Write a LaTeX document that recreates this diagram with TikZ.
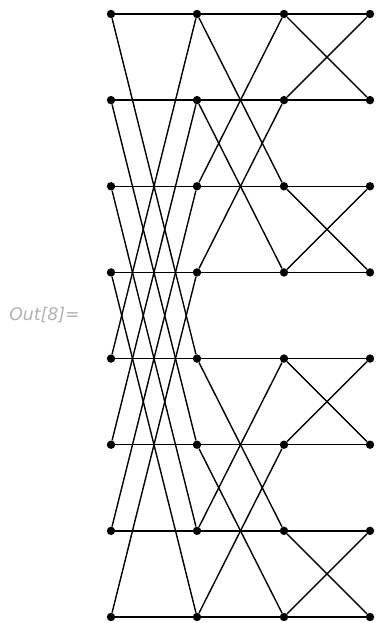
\documentclass[tikz,border=0pt]{standalone}
\usepackage{fontspec}
\newfontfamily\outfont{DejaVu Sans}
\usetikzlibrary{positioning,calc}
\tikzset{
  dot/.style={circle,fill=black,inner sep=0pt,minimum size=6.3pt},
  wire/.style={line width=1.05pt},
  outlabel/.style={text=black!30,font=\outfont\itshape\fontsize{13}{15}\selectfont,anchor=west,inner sep=0pt},
}
\begin{document}
\begin{tikzpicture}[x=0.75pt,y=-0.75pt]
    \useasboundingbox (0,0) rectangle (375,623);
    \node[outlabel] (out) at (9,315) {Out[8]=};
    % four columns of eight points
    \foreach \c/\x in {0/111,1/197,2/284,3/370}
      \foreach \r in {0,...,7}
        \node[dot] (n\c\r) at (\x,{14+86.14*\r}) {};
    % straight lines
    \foreach \r in {0,...,7} {
      \draw[wire] (n0\r) -- (n1\r);
      \draw[wire] (n1\r) -- (n2\r);
      \draw[wire] (n2\r) -- (n3\r);
    }
    % stage 1: distance 4
    \foreach \r in {0,...,3} {
      \pgfmathtruncatemacro\s{\r+4}
      \draw[wire] (n0\r) -- (n1\s);
      \draw[wire] (n0\s) -- (n1\r);
    }
    % stage 2: distance 2
    \foreach \r in {0,1,4,5} {
      \pgfmathtruncatemacro\s{\r+2}
      \draw[wire] (n1\r) -- (n2\s);
      \draw[wire] (n1\s) -- (n2\r);
    }
    % stage 3: distance 1
    \foreach \r in {0,2,4,6} {
      \pgfmathtruncatemacro\s{\r+1}
      \draw[wire] (n2\r) -- (n3\s);
      \draw[wire] (n2\s) -- (n3\r);
    }
\end{tikzpicture}
\end{document}
